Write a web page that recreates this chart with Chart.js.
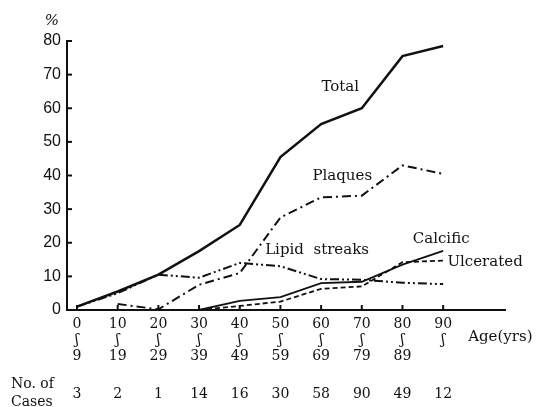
<!DOCTYPE html>
<html>
<head>
<meta charset="utf-8">
<script src="https://cdn.jsdelivr.net/npm/chart.js@4/dist/chart.umd.min.js"></script>
<style>
html,body{margin:0;padding:0;background:#fff;}
#wrap{width:539px;height:407px;position:relative;}
</style>
</head>
<body>
<div id="wrap"><canvas id="c" width="539" height="407"></canvas></div>
<script>
const ages = [0, 10, 20, 30, 40, 50, 60, 70, 80, 90];
const ageUpper = ['9', '19', '29', '39', '49', '59', '69', '79', '89', ''];
const cases = [3, 2, 1, 14, 16, 30, 58, 90, 49, 12];
const total = [1, 5.5, 10.5, 17.5, 25.3, 45.5, 55.3, 60, 75.5, 78.5];
const plaques = [null, 1.8, 0.2, 7.5, 11, 27.5, 33.5, 34, 43, 40.5];
const lipidStreaks = [1, 5, 10.5, 9.6, 14, 13, 9.2, 9, 8.1, 7.7];
const calcific = [null, null, null, 0, 2.7, 3.8, 8, 8.4, 13.5, 17.6];
const ulcerated = [null, null, null, 0, 1.2, 2.5, 6.3, 7, 14.2, 14.7];
const yTicks = [0, 10, 20, 30, 40, 50, 60, 70, 80];

const serif = '"DejaVu Serif", serif';
const tickFont = {family: serif, size: 14};

function pts(arr) { return ages.map((a, i) => ({x: a, y: arr[i]})); }

const labels = [
  {text: 'Total', x: 64.7, y: 66.3},
  {text: 'Plaques', x: 65.2, y: 39.9},
  {text: 'Lipid  streaks', x: 59, y: 17.8},
  {text: 'Calcific', x: 89.5, y: 21.1},
  {text: 'Ulcerated', x: 100.3, y: 14.3}
];

const decor = {
  id: 'decor',
  afterDraw(chart) {
    const ctx = chart.ctx;
    const xs = chart.scales.x, ys = chart.scales.y;
    ctx.save();
    ctx.strokeStyle = '#111';
    ctx.lineWidth = 2;
    // inward ticks
    ages.forEach(a => {
      const px = xs.getPixelForValue(a);
      ctx.beginPath(); ctx.moveTo(px, ys.bottom); ctx.lineTo(px, ys.bottom - 5); ctx.stroke();
    });
    yTicks.forEach(v => {
      const py = ys.getPixelForValue(v);
      ctx.beginPath(); ctx.moveTo(xs.left, py); ctx.lineTo(xs.left + 5, py); ctx.stroke();
    });
    ctx.fillStyle = '#111';
    ctx.textBaseline = 'middle';
    ctx.textAlign = 'center';
    ctx.font = '15px ' + serif;
    labels.forEach(l => {
      ctx.fillText(l.text, xs.getPixelForValue(l.x), ys.getPixelForValue(l.y));
    });
    // axis captions
    ctx.font = 'italic 15px ' + serif;
    ctx.fillText('%', xs.left - 15, ys.top - 20);
    ctx.font = '15px ' + serif;
    ctx.textAlign = 'left';
    ctx.fillText('Age(yrs)', xs.getPixelForValue(90) + 25, ys.bottom + 27);
    ctx.font = '14px ' + serif;
    ctx.fillText('No. of', 11, ys.bottom + 74);
    ctx.fillText('Cases', 11, ys.bottom + 92);
    ctx.restore();
  }
};

const ds = (label, arr, width, dash) => ({
  label, data: pts(arr), borderColor: '#111', borderWidth: width,
  borderDash: dash, pointRadius: 0, fill: false, tension: 0, spanGaps: false
});

new Chart(document.getElementById('c'), {
  type: 'line',
  data: {
    datasets: [
      ds('Total', total, 2.5, []),
      ds('Plaques', plaques, 2, [9, 4, 2, 4]),
      ds('Lipid streaks', lipidStreaks, 2, [9, 3, 2, 3, 2, 3]),
      ds('Calcific', calcific, 1.8, []),
      ds('Ulcerated', ulcerated, 1.8, [5, 3])
    ]
  },
  options: {
    responsive: false,
    animation: false,
    layout: {padding: {top: 41, right: 34, left: 0, bottom: 0}},
    plugins: {legend: {display: false}, tooltip: {enabled: false}},
    scales: {
      x: {
        type: 'linear', position: 'bottom', min: -2.46, max: 105.2, weight: 0,
        grid: {display: false, drawTicks: false},
        border: {display: true, color: '#111', width: 2},
        afterBuildTicks: s => { s.ticks = ages.map(v => ({value: v})); },
        afterFit: s => { s.height = 60; },
        ticks: {
          autoSkip: false, maxRotation: 0, padding: 6, color: '#111',
          font: {family: serif, size: 14, lineHeight: '16px'},
          callback: (v, i) => [String(ages[i]), '\u0283', ageUpper[i]]
        }
      },
      x2: {
        type: 'linear', position: 'bottom', min: -2.46, max: 105.2, weight: 1,
        grid: {display: false, drawTicks: false},
        border: {display: false},
        afterBuildTicks: s => { s.ticks = ages.map(v => ({value: v})); },
        afterFit: s => { s.height = 37; },
        ticks: {
          autoSkip: false, maxRotation: 0, padding: 16, color: '#111',
          font: tickFont,
          callback: (v, i) => String(cases[i])
        }
      },
      y: {
        min: 0, max: 80,
        grid: {display: false, drawTicks: false},
        border: {display: true, color: '#111', width: 2},
        afterBuildTicks: s => { s.ticks = yTicks.map(v => ({value: v})); },
        afterFit: s => { s.width = 67; },
        ticks: {padding: 6, color: '#111', font: {family: '"Liberation Sans", sans-serif', size: 16}}
      }
    }
  },
  plugins: [decor]
});
</script>
</body>
</html>
